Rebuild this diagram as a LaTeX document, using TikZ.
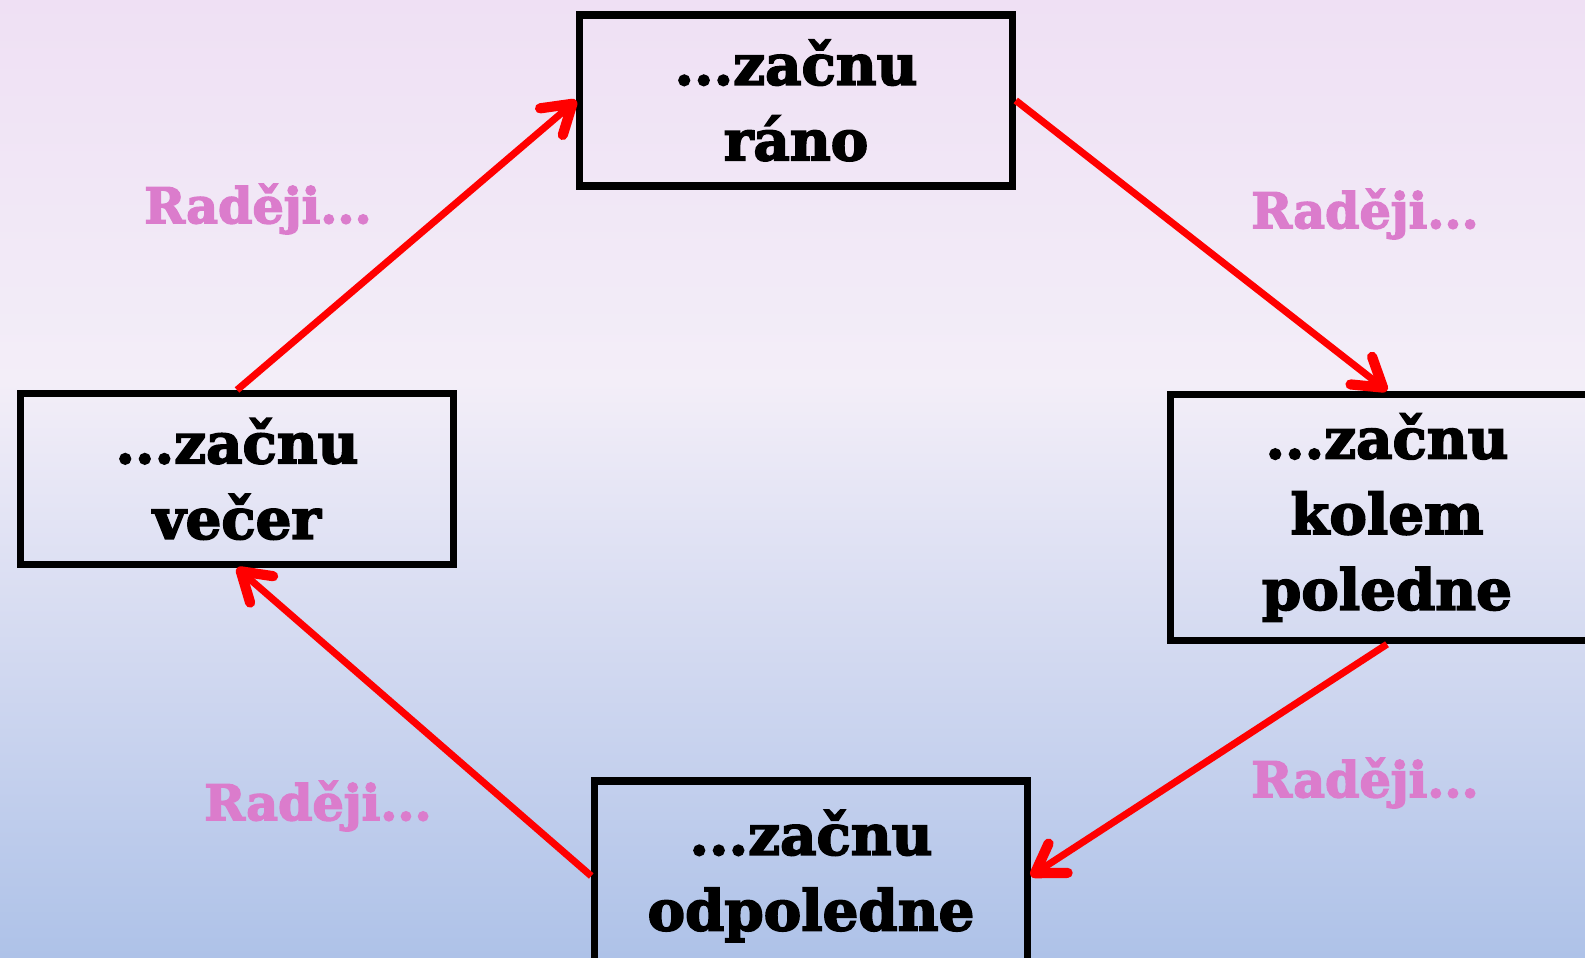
\documentclass[tikz,border=0pt]{standalone}
\usepackage{fontspec}
\setmainfont{DejaVu Serif}[BoldFeatures = {FakeBold = 3}]
\usepackage{tikz}
\usetikzlibrary{positioning,arrows.meta,calc}

\definecolor{topbg}{RGB}{239,224,244}
\definecolor{midbg}{RGB}{243,238,248}
\definecolor{botbg}{RGB}{174,194,232}
\definecolor{labelpink}{RGB}{219,124,204}

\begin{document}
\begin{tikzpicture}[
  box/.style = {draw = black, line width = 4pt, align = center, minimum width = 8.65cm,
                font = \fontsize{32}{43}\selectfont\bfseries},
  cyc/.style = {draw = red, line width = 4pt,
                -{Straight Barb[length = 0.55cm, width = 0.7cm, line width = 5.8pt, round]}},
  lab/.style = {text = labelpink, font = \fontsize{28}{32}\selectfont\bfseries}
]

\useasboundingbox (0,0) rectangle (31.7, 19.14);
\clip (0,0) rectangle (31.7, 19.14);
\shade[top color = topbg, bottom color = midbg] (0, 11.5) rectangle (31.7, 19.14);
\shade[top color = midbg, bottom color = botbg] (0, 0) rectangle (31.7, 11.5);

% the four boxes
\node[box, minimum height = 3.42cm] (rano) at (15.92, 17.13) {...začnu\\ráno};
\node[box, minimum height = 4.93cm] (poledne) at (27.74, 8.79) {...začnu\\kolem\\poledne};
\node[box, minimum height = 3.8cm] (odpoledne) at (16.22, 1.62) {...začnu\\odpoledne};
\node[box, minimum height = 3.42cm] (vecer) at (4.74, 9.56) {...začnu\\večer};

% labels
\node[lab] (lab1) at (5.16, 14.96) {Raději...};
\node[lab] (lab2) at (27.3, 14.86) {Raději...};
\node[lab] (lab3) at (27.3, 3.48) {Raději...};
\node[lab] (lab4) at (6.36, 3.02) {Raději...};

\draw[cyc] (vecer.north) -- (rano.west);
\draw[cyc] (rano.east) -- (poledne.north);
\draw[cyc] (poledne.south) -- (odpoledne.east);
\draw[cyc] (odpoledne.west) -- (vecer.south);

\end{tikzpicture}
\end{document}
